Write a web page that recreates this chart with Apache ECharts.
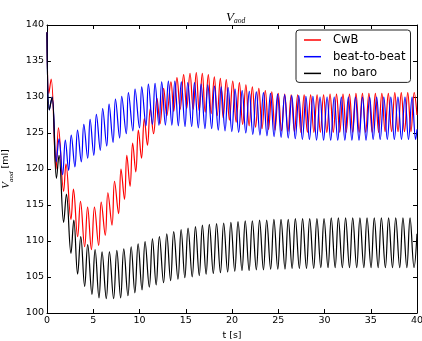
<!DOCTYPE html>
<html>
<head>
<meta charset="utf-8">
<script src="https://cdn.jsdelivr.net/npm/echarts@6/dist/echarts.min.js"></script>
<style>
html,body{margin:0;padding:0;background:#fff;}
#c{width:422px;height:341px;}
</style>
</head>
<body>
<div id="c"></div>
<script>
// tick values
const xTicks = [0, 5, 10, 15, 20, 25, 30, 35, 40];
const yTicks = [100, 105, 110, 115, 120, 125, 130, 135, 140];
const seriesNames = ['CwB', 'beat-to-beat', 'no baro'];

// [t (s), V_aod (ml)] at the successive troughs / peaks
const cwb = [[0,139],[0.2,130.5],[0.45,132.5],[0.98,120.0],[1.24,125.7],[1.8,116.9],[2.05,120.7],[2.59,113.0],[2.86,117.2],[3.31,110.6],[3.62,115.5],[4.07,109.2],[4.39,114.7],[4.8,108.8],[5.13,114.7],[5.58,109.4],[5.86,115.4],[6.3,110.8],[6.58,116.7],[7.03,112.2],[7.3,118.3],[7.74,113.8],[8.0,120.0],[8.38,115.8],[8.63,121.9],[8.98,117.6],[9.26,123.6],[9.6,119.6],[9.88,125.4],[10.22,121.5],[10.52,127.0],[10.86,123.3],[11.17,128.4],[11.52,124.9],[11.89,129.8],[12.22,126.3],[12.61,131.2],[12.95,127.4],[13.4,132.1],[13.7,128.0],[14.05,132.7],[14.4,128.3],[14.77,133.1],[15.1,128.4],[15.46,133.3],[15.8,128.3],[16.14,133.4],[16.45,128.1],[16.79,133.3],[17.1,127.9],[17.44,133.1],[17.75,127.7],[18.09,132.8],[18.4,127.4],[18.74,132.6],[19.05,127.1],[19.38,132.4],[19.72,126.8],[20.08,132.2],[20.45,126.5],[20.8,132.0],[21.15,126.2],[21.5,131.7],[21.85,126.0],[22.2,131.4],[22.55,125.8],[22.9,131.2],[23.25,125.6],[23.6,130.9],[23.95,125.5],[24.3,130.7],[24.65,125.4],[25.0,130.5],[25.35,125.3],[25.7,130.4],[26.05,125.2],[26.4,130.3],[26.75,125.2],[27.1,130.3],[27.45,125.1],[27.8,130.3],[28.15,125.1],[28.5,130.3],[28.85,125.1],[29.2,130.3],[29.55,125.1],[29.9,130.3],[30.25,125.1],[30.6,130.4],[30.95,125.1],[31.3,130.4],[31.65,125.1],[32.0,130.4],[32.35,125.1],[32.7,130.4],[33.05,125.1],[33.4,130.5],[33.75,125.1],[34.1,130.5],[34.45,125.1],[34.8,130.5],[35.15,125.1],[35.5,130.5],[35.85,125.1],[36.2,130.5],[36.55,125.2],[36.9,130.5],[37.25,125.2],[37.6,130.6],[37.95,125.2],[38.3,130.6],[38.65,125.2],[39.0,130.6],[39.35,125.2],[39.7,130.6],[40,127.5]];

const beatToBeat = [[0,139],[0.25,128.2],[0.55,130.0],[1.0,121.0],[1.3,124.2],[1.69,119.2],[1.98,124.0],[2.34,119.8],[2.62,124.7],[3.02,120.3],[3.3,125.4],[3.71,121.0],[3.98,126.2],[4.4,121.5],[4.66,126.9],[5.06,121.9],[5.34,127.6],[5.76,122.6],[6.02,128.4],[6.46,123.2],[6.71,129.0],[7.14,123.7],[7.4,129.7],[7.85,124.3],[8.08,130.1],[8.57,124.9],[8.8,130.6],[9.28,125.3],[9.52,131.1],[10.0,125.7],[10.24,131.4],[10.7,126.0],[10.96,131.8],[11.4,126.2],[11.68,131.9],[12.1,126.1],[12.4,132.1],[12.8,126.1],[13.12,132.2],[13.5,126.1],[13.82,132.2],[14.2,126.0],[14.52,132.1],[14.92,125.9],[15.22,132.0],[15.64,125.9],[15.94,132.0],[16.36,125.7],[16.66,131.8],[17.08,125.6],[17.38,131.7],[17.8,125.6],[18.1,131.5],[18.52,125.4],[18.83,131.4],[19.25,125.3],[19.58,131.3],[19.98,125.2],[20.33,131.1],[20.72,125.1],[21.1,130.9],[21.49,125.0],[21.87,130.8],[22.25,124.8],[22.63,130.7],[23.02,124.7],[23.4,130.6],[23.78,124.6],[24.16,130.5],[24.55,124.5],[24.93,130.4],[25.31,124.4],[25.69,130.3],[26.08,124.3],[26.46,130.2],[26.84,124.2],[27.22,130.2],[27.61,124.1],[27.99,130.1],[28.37,124.1],[28.75,130.1],[29.14,124.0],[29.52,130.0],[29.9,124.0],[30.28,130.0],[30.67,124.0],[31.05,130.0],[31.43,124.0],[31.82,130.0],[32.2,124.0],[32.58,130.0],[32.96,124.0],[33.35,130.0],[33.73,124.0],[34.11,130.0],[34.49,124.0],[34.88,130.0],[35.26,124.1],[35.64,130.0],[36.02,124.1],[36.41,130.0],[36.79,124.1],[37.17,130.0],[37.55,124.1],[37.94,130.0],[38.32,124.1],[38.7,130.0],[39.08,124.1],[39.47,130.0],[39.85,124.1],[40,125.5]];

const noBaro = [[0,139],[0.25,128.2],[0.55,130.0],[1.02,118.7],[1.3,121.9],[1.8,112.6],[2.1,116.5],[2.59,108.3],[2.9,112.9],[3.31,105.4],[3.65,110.6],[4.07,103.7],[4.4,109.5],[4.86,102.6],[5.2,108.8],[5.62,102.1],[5.95,108.5],[6.41,102.0],[6.75,108.5],[7.2,102.0],[7.55,108.7],[7.96,102.1],[8.3,108.9],[8.75,102.4],[9.1,109.2],[9.5,102.8],[9.85,109.6],[10.27,103.2],[10.6,109.9],[11.06,103.6],[11.4,110.3],[11.8,103.9],[12.15,110.6],[12.6,104.2],[12.95,111.0],[13.36,104.5],[13.7,111.3],[14.16,104.7],[14.5,111.6],[14.9,104.9],[15.25,111.8],[15.7,105.0],[16.05,112.0],[16.46,105.2],[16.8,112.2],[17.2,105.4],[17.55,112.3],[17.98,105.5],[18.33,112.4],[18.75,105.6],[19.1,112.5],[19.53,105.7],[19.88,112.6],[20.3,105.8],[20.65,112.7],[21.08,105.9],[21.43,112.8],[21.85,105.9],[22.2,112.8],[22.63,106.0],[22.98,112.9],[23.4,106.0],[23.75,112.9],[24.18,106.1],[24.53,113.0],[24.95,106.1],[25.3,113.0],[25.73,106.1],[26.08,113.0],[26.5,106.2],[26.85,113.1],[27.28,106.2],[27.63,113.1],[28.05,106.2],[28.4,113.1],[28.83,106.2],[29.18,113.1],[29.6,106.3],[29.95,113.1],[30.38,106.3],[30.73,113.2],[31.15,106.3],[31.5,113.2],[31.93,106.3],[32.28,113.2],[32.7,106.3],[33.05,113.2],[33.48,106.3],[33.83,113.2],[34.25,106.3],[34.6,113.2],[35.03,106.3],[35.38,113.2],[35.8,106.3],[36.15,113.2],[36.58,106.3],[36.93,113.2],[37.35,106.3],[37.7,113.2],[38.13,106.3],[38.48,113.2],[38.9,106.3],[39.25,113.2],[39.68,106.3],[40,111.0]];

const colors = ['#ff0000', '#0000ff', '#000000'];
const tickFont = 'DejaVu Sans';
const mathFont = 'Liberation Serif';

const chart = echarts.init(document.getElementById('c'), null, {renderer: 'canvas'});

function mkX(pos, showLabels) {
  return {
    type: 'value', position: pos, min: xTicks[0], max: xTicks[xTicks.length - 1], interval: 5,
    axisLine: {show: true, onZero: false, lineStyle: {color: '#000', width: 1}},
    axisTick: {show: true, inside: true, length: 4, lineStyle: {color: '#000'}},
    axisLabel: {show: showLabels, color: '#000', fontFamily: tickFont, fontSize: 9.5, margin: 3},
    splitLine: {show: false},
    name: showLabels ? 't [s]' : '', nameLocation: 'middle', nameGap: 14,
    nameTextStyle: {color: '#000', fontFamily: tickFont, fontSize: 9.5}
  };
}
function mkY(pos, showLabels) {
  return {
    type: 'value', position: pos, min: yTicks[0], max: yTicks[yTicks.length - 1], interval: 5,
    axisLine: {show: true, onZero: false, lineStyle: {color: '#000', width: 1}},
    axisTick: {show: true, inside: true, length: 4, lineStyle: {color: '#000'}},
    axisLabel: {show: showLabels, color: '#000', fontFamily: tickFont, fontSize: 9.5, margin: 3},
    splitLine: {show: false},
    name: showLabels ? '{v|V}{s|aod}{u| [ml]}' : '', nameLocation: 'middle', nameGap: 27, nameRotate: 90,
    nameTextStyle: {
      color: '#000',
      rich: {
        v: {fontFamily: mathFont, fontStyle: 'italic', fontSize: 11, color: '#000', lineHeight: 12, verticalAlign: 'top'},
        s: {fontFamily: mathFont, fontStyle: 'italic', fontSize: 7, color: '#000', lineHeight: 14, verticalAlign: 'bottom'},
        u: {fontFamily: tickFont, fontSize: 9.5, color: '#000', lineHeight: 12, verticalAlign: 'top'}
      }
    }
  };
}

const option = {
  animation: false,
  backgroundColor: '#fff',
  title: {
    text: '{v|V}{s|aod}',
    left: 221, top: 6,
    textStyle: {
      fontWeight: 'normal',
      rich: {
        v: {fontFamily: mathFont, fontStyle: 'italic', fontWeight: 'normal', fontSize: 13, color: '#000', lineHeight: 13, verticalAlign: 'top'},
        s: {fontFamily: mathFont, fontStyle: 'italic', fontWeight: 'normal', fontSize: 7.5, color: '#000', lineHeight: 14, verticalAlign: 'bottom'}
      }
    }
  },
  grid: {left: 47, right: 5, top: 25, bottom: 28, containLabel: false, outerBoundsMode: 'none'},
  xAxis: [mkX('bottom', true), mkX('top', false)],
  yAxis: [mkY('left', true), mkY('right', false)],
  legend: {
    data: seriesNames,
    orient: 'vertical',
    left: 296, top: 30,
    padding: [3, 5, 2, 8],
    itemGap: 2.7,
    itemWidth: 17, itemHeight: 1.5,
    icon: 'rect',
    backgroundColor: '#fff',
    borderColor: '#222', borderWidth: 1, borderRadius: 3,
    textStyle: {fontFamily: tickFont, fontSize: 11.6, color: '#000', lineHeight: 14, padding: [0, 0, 0, 7]}
  },
  series: [
    {name: seriesNames[0], type: 'line', data: cwb, symbol: 'none', smooth: 0.4, color: colors[0], lineStyle: {width: 1.2, color: colors[0]}, itemStyle: {color: colors[0]}, z: 2},
    {name: seriesNames[1], type: 'line', data: beatToBeat, symbol: 'none', smooth: 0.4, color: colors[1], lineStyle: {width: 1.2, color: colors[1]}, itemStyle: {color: colors[1]}, z: 3},
    {name: seriesNames[2], type: 'line', data: noBaro, symbol: 'none', smooth: 0.4, color: colors[2], lineStyle: {width: 1.2, color: colors[2]}, itemStyle: {color: colors[2]}, z: 4}
  ]
};
chart.setOption(option);
</script>
</body>
</html>
